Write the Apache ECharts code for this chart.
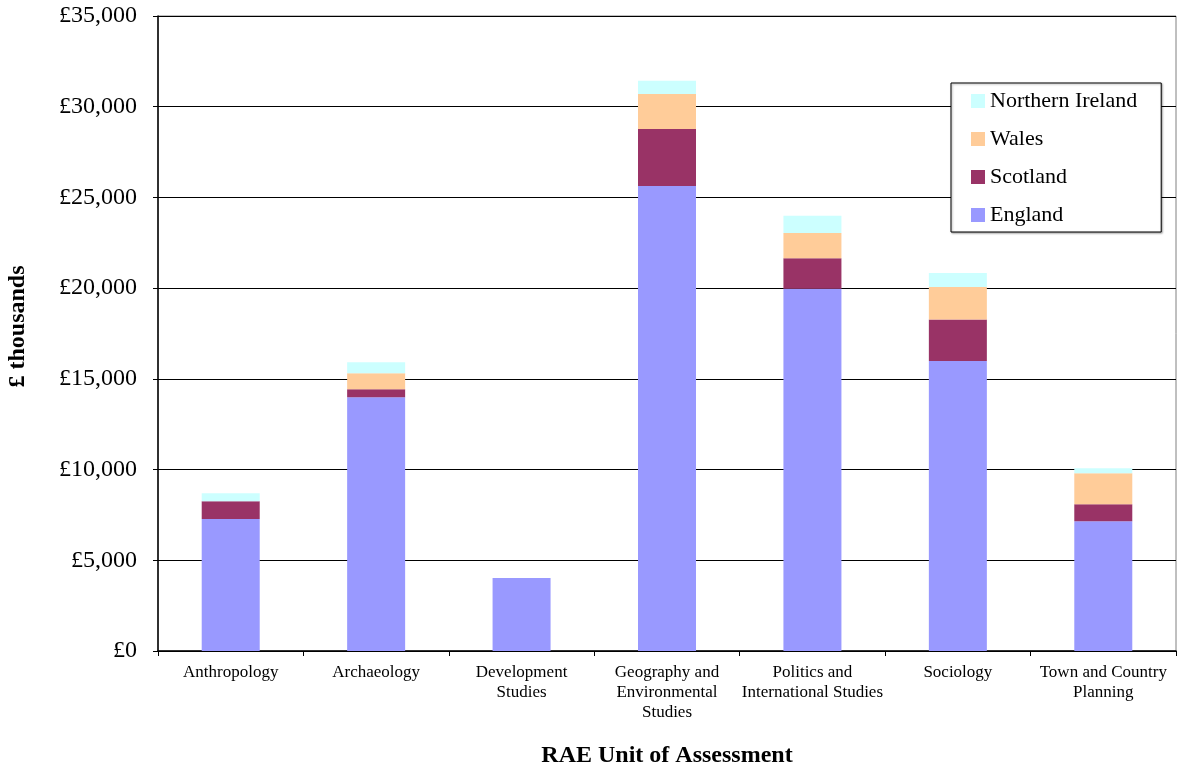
<!DOCTYPE html>
<html>
<head>
<meta charset="utf-8">
<script src="https://cdn.jsdelivr.net/npm/echarts@6/dist/echarts.min.js"></script>
<style>
  html, body { margin: 0; padding: 0; background: #fff; }
  #chart { width: 1178px; height: 767px; }
</style>
</head>
<body>
<div id="chart"></div>
<script>
// RAE funding by unit of assessment, £ thousands, split by UK nation
const categories = [
  'Anthropology',
  'Archaeology',
  'Development\nStudies',
  'Geography and\nEnvironmental\nStudies',
  'Politics and\nInternational Studies',
  'Sociology',
  'Town and Country\nPlanning'
];
const england         = [7275, 13985, 4020, 25630, 19970, 15985, 7150];
const scotland        = [975, 440, 0, 3140, 1675, 2280, 935];
const wales           = [0, 880, 0, 1930, 1395, 1800, 1710];
const northernIreland = [440, 605, 0, 735, 955, 770, 275];

const yTicks = { min: 0, max: 35000, step: 5000 };

const fontFamily = '"Liberation Serif", "DejaVu Serif", serif';

function poundLabel(v) {
  return '£' + String(Math.round(v)).replace(/\B(?=(\d{3})+(?!\d))/g, ',');
}

function stackSeries(name, data, color) {
  return {
    name: name,
    type: 'bar',
    stack: 'total',
    data: data,
    barWidth: 58,
    itemStyle: { color: color },
    emphasis: { disabled: true }
  };
}

const chart = echarts.init(document.getElementById('chart'), null, { renderer: 'canvas' });
chart.setOption({
  animation: false,
  backgroundColor: '#ffffff',
  textStyle: { fontFamily: fontFamily },
  grid: {
    left: 158, right: 2, top: 16, bottom: 116,
    containLabel: false,
    outerBoundsMode: 'none',
    show: true, borderColor: '#808080', borderWidth: 1, backgroundColor: 'transparent'
  },
  legend: {
    orient: 'vertical',
    left: 951, top: 83,
    data: ['Northern Ireland', 'Wales', 'Scotland', 'England'],
    icon: 'rect',
    itemWidth: 14, itemHeight: 14,
    itemGap: 16,
    padding: [7, 24, 6, 20],
    backgroundColor: '#ffffff',
    borderColor: '#000000',
    borderWidth: 1,
    shadowColor: 'rgba(0,0,0,0.35)',
    shadowBlur: 2, shadowOffsetX: 1, shadowOffsetY: 1,
    selectedMode: false,
    textStyle: { fontFamily: fontFamily, fontSize: 22, lineHeight: 22, color: '#000' }
  },
  xAxis: {
    type: 'category',
    data: categories,
    name: 'RAE Unit of Assessment',
    nameLocation: 'middle',
    nameGap: 93,
    nameTextStyle: { fontFamily: fontFamily, fontSize: 24, fontWeight: 'bold', color: '#000' },
    axisLine: { lineStyle: { color: '#000', width: 1.5 } },
    axisTick: { show: true, length: 5, alignWithLabel: false, lineStyle: { color: '#000' } },
    axisLabel: {
      interval: 0, margin: 12, color: '#000',
      fontFamily: fontFamily, fontSize: 17, lineHeight: 20
    }
  },
  yAxis: {
    type: 'value',
    min: yTicks.min, max: yTicks.max, interval: yTicks.step,
    name: '£ thousands',
    nameLocation: 'middle',
    nameGap: 128,
    nameRotate: 90,
    nameTextStyle: { fontFamily: fontFamily, fontSize: 24, fontWeight: 'bold', color: '#000', padding: [0, 0, 0, 14] },
    axisLine: { show: true, lineStyle: { color: '#000', width: 1.5 } },
    axisTick: { show: true, length: 5, lineStyle: { color: '#000' } },
    splitLine: { show: true, lineStyle: { color: '#000', width: 1 } },
    axisLabel: {
      margin: 21, color: '#000',
      fontFamily: fontFamily, fontSize: 24,
      formatter: poundLabel
    }
  },
  series: [
    stackSeries('England', england, '#9999FF'),
    stackSeries('Scotland', scotland, '#993366'),
    stackSeries('Wales', wales, '#FFCC99'),
    stackSeries('Northern Ireland', northernIreland, '#CCFFFF')
  ]
});
</script>
</body>
</html>
